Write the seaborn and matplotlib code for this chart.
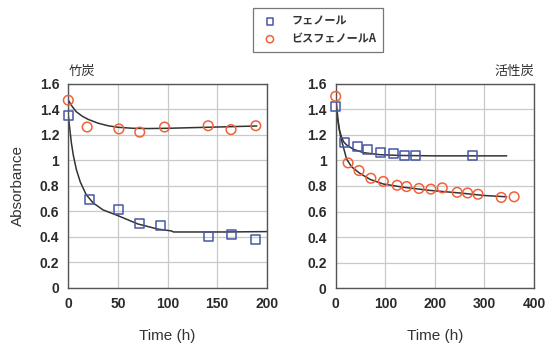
import numpy as np
import pandas as pd
import matplotlib
matplotlib.use('Agg')
import matplotlib.pyplot as plt
import seaborn as sns
from matplotlib.ticker import MultipleLocator, FuncFormatter

# 竹炭 (bamboo charcoal) measured points
bam_t_phenol = [0, 21, 51, 72, 93, 141, 164, 189]
bam_a_phenol = [1.35, 0.69, 0.615, 0.505, 0.485, 0.40, 0.415, 0.38]
bam_t_bpa = [0, 19, 51, 72, 97, 141, 164, 189]
bam_a_bpa = [1.47, 1.26, 1.245, 1.22, 1.26, 1.27, 1.24, 1.27]

# 竹炭 fitted curves
bam_fit_t_phenol = [0, 1, 3, 5, 8, 12, 18, 25, 35, 50, 70, 90, 104, 106, 130, 160, 200]
bam_fit_a_phenol = [1.35, 1.28, 1.14, 1.04, 0.93, 0.83, 0.73, 0.665, 0.61, 0.565,
                    0.50, 0.46, 0.445, 0.437, 0.437, 0.437, 0.44]
bam_fit_t_bpa = [0, 4, 8, 14, 20, 30, 40, 50, 65, 80, 100, 130, 160, 190]
bam_fit_a_bpa = [1.47, 1.42, 1.38, 1.345, 1.32, 1.29, 1.27, 1.258, 1.25, 1.248,
                 1.25, 1.256, 1.262, 1.268]

# 活性炭 (activated carbon) measured points
ac_t_phenol = [0, 18, 44, 65, 91, 116, 139, 161, 276]
ac_a_phenol = [1.42, 1.14, 1.11, 1.085, 1.065, 1.05, 1.035, 1.04, 1.035]
ac_t_bpa = [0, 25, 47, 71, 96, 124, 143, 168, 192, 215, 245, 266, 287, 334, 360]
ac_a_bpa = [1.50, 0.98, 0.92, 0.86, 0.835, 0.805, 0.795, 0.78, 0.775, 0.785,
            0.75, 0.745, 0.735, 0.71, 0.715]

# 活性炭 fitted curves
ac_fit_t_phenol = [0, 3, 5.4, 8, 12, 16, 22, 36, 56, 89, 130, 200, 345]
ac_fit_a_phenol = [1.42, 1.34, 1.29, 1.23, 1.18, 1.145, 1.12, 1.086, 1.06, 1.044,
                   1.038, 1.035, 1.035]
ac_fit_t_bpa = [0, 3, 6, 10, 15, 22, 32, 48, 70, 96, 136, 190, 250, 300, 345]
ac_fit_a_bpa = [1.50, 1.38, 1.27, 1.18, 1.11, 1.01, 0.95, 0.90, 0.85, 0.815,
                0.79, 0.765, 0.745, 0.725, 0.715]

series_names = ['フェノール', 'ビスフェノールA']
panel_titles = ['竹炭', '活性炭']

sns.set_style('white')
plt.rcParams['font.family'] = ['Liberation Sans', 'Noto Sans CJK JP', 'DejaVu Sans']

BLUE = '#4657a5'
ORANGE = '#f2603a'


def draw_panel(ax, pts, fits, xmax, xmajor, xminor):
    for t, a in fits:
        sns.lineplot(x=t, y=a, ax=ax, color='#333333', linewidth=1.1,
                     sort=False, estimator=None, legend=False)
    (tp, ap), (tb, ab) = pts
    sns.scatterplot(x=tp, y=ap, ax=ax, marker='s', s=42, facecolor='none',
                    edgecolor=BLUE, linewidth=1.1, label=series_names[0],
                    zorder=5, clip_on=False)
    sns.scatterplot(x=tb, y=ab, ax=ax, marker='o', s=48, facecolor='none',
                    edgecolor=ORANGE, linewidth=1.1, label=series_names[1],
                    zorder=5, clip_on=False)
    ax.set_xlim(0, xmax); ax.set_ylim(0, 1.6)
    ax.xaxis.set_major_locator(MultipleLocator(xmajor))
    ax.xaxis.set_minor_locator(MultipleLocator(xminor))
    ax.yaxis.set_major_locator(MultipleLocator(0.2))
    ax.yaxis.set_minor_locator(MultipleLocator(0.05))
    ax.yaxis.set_major_formatter(FuncFormatter(lambda v, p: f'{v:g}'))
    ax.grid(True, which='major', color='#c9c9c9', linewidth=0.9)
    for sp in ax.spines.values():
        sp.set_color('#555555'); sp.set_linewidth(1.0)
    ax.tick_params(axis='both', which='major', labelsize=10, colors='#555555',
                   labelcolor='#2a2a2a', length=3, width=0.8, direction='out')
    ax.tick_params(axis='both', which='minor', colors='#888888', length=2,
                   width=0.6, direction='in')
    for lab in ax.get_xticklabels() + ax.get_yticklabels():
        lab.set_fontweight('bold')
    ax.set_xlabel('Time (h)', fontsize=11, color='#333333', labelpad=13)
    ax.set_ylabel('')
    ax.get_legend().remove()


fig = plt.figure(figsize=(5.47, 3.47), dpi=100)
ax1 = fig.add_axes([0.1249, 0.1709, 0.3627, 0.588])
ax2 = fig.add_axes([0.6137, 0.1692, 0.3625, 0.590])

draw_panel(ax1, [(bam_t_phenol, bam_a_phenol), (bam_t_bpa, bam_a_bpa)],
           [(bam_fit_t_phenol, bam_fit_a_phenol), (bam_fit_t_bpa, bam_fit_a_bpa)],
           200, 50, 10)
draw_panel(ax2, [(ac_t_phenol, ac_a_phenol), (ac_t_bpa, ac_a_bpa)],
           [(ac_fit_t_phenol, ac_fit_a_phenol), (ac_fit_t_bpa, ac_fit_a_bpa)],
           400, 100, 20)

ax1.set_ylabel('Absorbance', fontsize=11, color='#333333', labelpad=11)
ax1.set_title(panel_titles[0], loc='left', fontsize=9.5, color='#333333',
              family='Noto Sans CJK JP', pad=6)
ax2.set_title(panel_titles[1], loc='right', fontsize=9.5, color='#333333',
              family='Noto Sans CJK JP', pad=6)

handles, labels = ax1.get_legend_handles_labels()
leg = fig.legend(handles, labels, loc='upper center',
                 bbox_to_anchor=(318 / 547, 1 - 8 / 347), frameon=True,
                 fancybox=False, edgecolor='#555555',
                 prop={'family': 'Noto Sans CJK JP', 'weight': 'bold', 'size': 8},
                 handletextpad=1.0, borderpad=0.6, labelspacing=0.4,
                 handlelength=1.9, markerscale=0.75, borderaxespad=0)
leg.get_frame().set_linewidth(0.9)
for t in leg.get_texts():
    t.set_color('#333333')

fig.savefig('out.png', dpi=100)
